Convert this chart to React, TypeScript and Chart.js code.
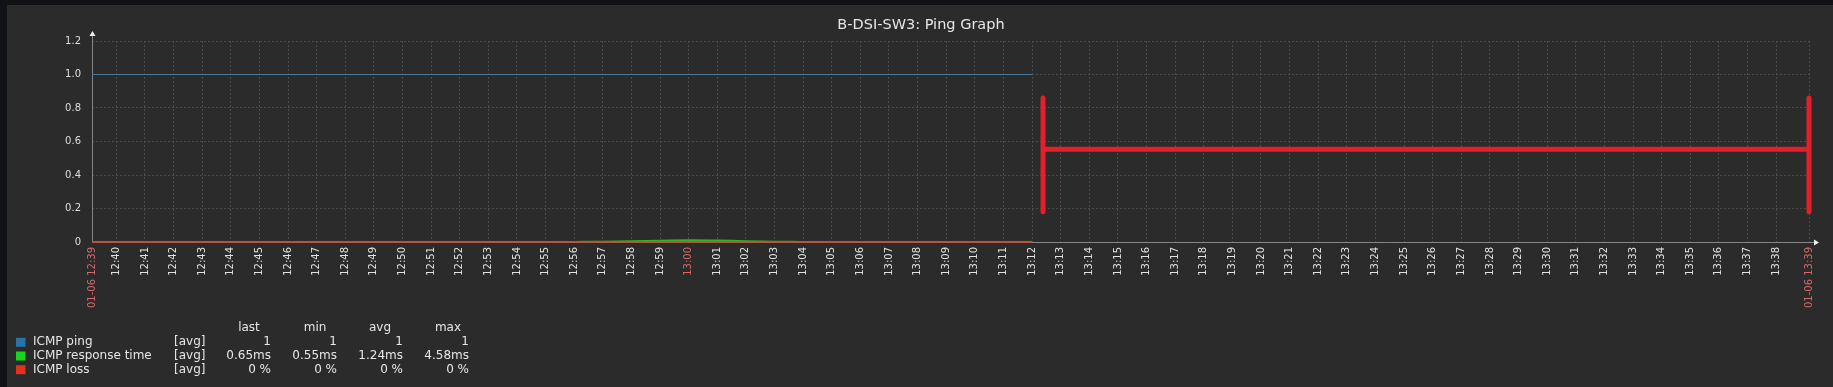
import { useEffect, useRef } from 'react';
import { Chart, registerables } from 'chart.js';

Chart.register(...registerables);

const W = 1833;
const H = 387;
const FONT = "'DejaVu Sans', 'Liberation Sans', sans-serif";

const chartTitle = 'B-DSI-SW3: Ping Graph';
const rangeStart = '12:39:09';
const rangeEnd = '13:39:09';
const startLabel = '01-06 12:39';
const endLabel = '01-06 13:39';

const tickLabels = [
  '12:40', '12:41', '12:42', '12:43', '12:44', '12:45', '12:46', '12:47', '12:48', '12:49',
  '12:50', '12:51', '12:52', '12:53', '12:54', '12:55', '12:56', '12:57', '12:58', '12:59',
  '13:00', '13:01', '13:02', '13:03', '13:04', '13:05', '13:06', '13:07', '13:08', '13:09',
  '13:10', '13:11', '13:12', '13:13', '13:14', '13:15', '13:16', '13:17', '13:18', '13:19',
  '13:20', '13:21', '13:22', '13:23', '13:24', '13:25', '13:26', '13:27', '13:28', '13:29',
  '13:30', '13:31', '13:32', '13:33', '13:34', '13:35', '13:36', '13:37', '13:38',
];
const highlightLabels = ['13:00'];

const yTicks = [0, 0.2, 0.4, 0.6, 0.8, 1.0, 1.2];

const sampleTimes = [
  '12:39:09', '12:40', '12:41', '12:42', '12:43', '12:44', '12:45', '12:46', '12:47', '12:48',
  '12:49', '12:50', '12:51', '12:52', '12:53', '12:54', '12:55', '12:56', '12:57', '12:58',
  '12:59', '13:00', '13:01', '13:02', '13:03', '13:04', '13:05', '13:06', '13:07', '13:08',
  '13:09', '13:10', '13:11', '13:12',
];
const pingValues = [
  1, 1, 1, 1, 1, 1, 1, 1, 1, 1,
  1, 1, 1, 1, 1, 1, 1, 1, 1, 1,
  1, 1, 1, 1, 1, 1, 1, 1, 1, 1,
  1, 1, 1, 1,
];
const responseValues = [
  0.0006, 0.0006, 0.0006, 0.0007, 0.0006, 0.0006, 0.0006, 0.0006, 0.0007, 0.0006,
  0.0006, 0.0006, 0.0006, 0.0006, 0.0007, 0.0006, 0.0006, 0.0006, 0.0015, 0.004,
  0.008, 0.011, 0.009, 0.005, 0.002, 0.0006, 0.0006, 0.0006, 0.0007, 0.0006,
  0.0006, 0.0006, 0.0006, 0.0006,
];
const lossValues = [
  0, 0, 0, 0, 0, 0, 0, 0, 0, 0,
  0, 0, 0, 0, 0, 0, 0, 0, 0, 0,
  0, 0, 0, 0, 0, 0, 0, 0, 0, 0,
  0, 0, 0, 0,
];

// red redaction marks drawn over the chart
const markTimes = ['13:12:23', '13:39:09'];
const markTop = 0.86;
const markBottom = 0.18;
const markMid = 0.553;

const legendNames = ['ICMP ping', 'ICMP response time', 'ICMP loss'];
const legendColors = ['#2874a6', '#1ad61a', '#e2331a'];
const legendFunc = ['[avg]', '[avg]', '[avg]'];
const legendHeaders = ['last', 'min', 'avg', 'max'];
const lastVals = ['1', '0.65ms', '0 %'];
const minVals = ['1', '0.55ms', '0 %'];
const avgVals = ['1', '1.24ms', '0 %'];
const maxVals = ['1', '4.58ms', '0 %'];

function toMin(t: string): number {
  const p = t.split(':').map(Number);
  return p[0] * 60 + p[1] + (p[2] || 0) / 60 - 720;
}

const xMin = toMin(rangeStart);
const xMax = toMin(rangeEnd);

export default function App() {
  const ref = useRef<HTMLCanvasElement | null>(null);

  useEffect(() => {
    const canvas = ref.current;
    if (!canvas) return;

    const tickMap = new Map<number, string>();
    tickMap.set(xMin, startLabel);
    tickLabels.forEach((l) => tickMap.set(toMin(l), l));
    tickMap.set(xMax, endLabel);
    const tickValues = Array.from(tickMap.keys()).sort((a, b) => a - b);
    const redValues = new Set<number>([xMin, xMax, ...highlightLabels.map(toMin)]);

    const xs = sampleTimes.map(toMin);
    const mx = markTimes.map(toMin);
    const markLeft: any[] = [
      { x: mx[0], y: markTop }, { x: mx[0], y: markBottom }, { x: mx[0], y: null },
      { x: mx[0], y: markMid }, { x: mx[1], y: markMid },
    ];
    const markRight: any[] = [
      { x: mx[1], y: markTop }, { x: mx[1], y: markBottom },
    ];

    const decor = {
      id: 'decor',
      beforeDraw(chart: any) {
        const ctx = chart.ctx;
        ctx.save();
        ctx.fillStyle = '#2b2b2b';
        ctx.fillRect(0, 0, W, H);
        ctx.fillStyle = '#111215';
        ctx.fillRect(0, 0, W, 5);
        ctx.fillRect(0, 0, 7, H);
        ctx.restore();
      },
      beforeDatasetsDraw(chart: any) {
        const ctx = chart.ctx;
        const a = chart.chartArea;
        ctx.save();
        ctx.strokeStyle = '#858585';
        ctx.lineWidth = 1;
        ctx.beginPath();
        ctx.moveTo(a.left + 0.5, a.top - 6);
        ctx.lineTo(a.left + 0.5, a.bottom + 0.5);
        ctx.lineTo(a.right + 6, a.bottom + 0.5);
        ctx.stroke();
        ctx.fillStyle = '#eeeeee';
        ctx.beginPath();
        ctx.moveTo(a.left + 0.5, a.top - 10);
        ctx.lineTo(a.left - 2.5, a.top - 5);
        ctx.lineTo(a.left + 3.5, a.top - 5);
        ctx.closePath();
        ctx.fill();
        ctx.beginPath();
        ctx.moveTo(a.right + 10, a.bottom + 0.5);
        ctx.lineTo(a.right + 5, a.bottom - 2.5);
        ctx.lineTo(a.right + 5, a.bottom + 3.5);
        ctx.closePath();
        ctx.fill();
        ctx.restore();
      },
      afterDraw(chart: any) {
        const ctx = chart.ctx;
        ctx.save();
        ctx.fillStyle = '#e6e6e6';
        ctx.font = `14.5px ${FONT}`;
        ctx.textAlign = 'center';
        ctx.textBaseline = 'alphabetic';
        ctx.fillText(chartTitle, 921, 29);

        ctx.font = `12px ${FONT}`;
        ctx.textBaseline = 'middle';
        const headX = [249, 315, 380, 448];
        legendHeaders.forEach((h, i) => {
          ctx.textAlign = 'center';
          ctx.fillText(h, headX[i], 328);
        });
        const rowY = [342.3, 356, 369.7];
        const colRight = [271, 337, 403, 469];
        const cols = [lastVals, minVals, avgVals, maxVals];
        legendNames.forEach((n, i) => {
          ctx.fillStyle = legendColors[i];
          ctx.fillRect(16, rowY[i] - 4.5, 9.5, 9);
          ctx.fillStyle = '#e6e6e6';
          ctx.textAlign = 'left';
          ctx.fillText(n, 33, rowY[i]);
          ctx.fillText(legendFunc[i], 174, rowY[i]);
          ctx.textAlign = 'right';
          cols.forEach((c, j) => ctx.fillText(c[i], colRight[j], rowY[i]));
        });
        ctx.restore();
      },
    };

    const markStyle = {
      borderColor: '#e3202a',
      borderWidth: 5,
      borderCapStyle: 'round',
      pointRadius: 0,
      spanGaps: false,
      clip: false as any,
      order: -1,
    };

    const chart = new Chart(canvas, {
      type: 'line',
      data: {
        datasets: [
          { label: 'redaction-a', data: markLeft, ...markStyle },
          { label: 'redaction-b', data: markRight, ...markStyle },
          {
            label: legendNames[2],
            data: xs.map((x, i) => ({ x, y: lossValues[i] })),
            borderColor: '#b8553b',
            borderWidth: 2,
            pointRadius: 0,
            clip: false as any,
            order: 0,
          },
          {
            label: legendNames[1],
            data: xs.map((x, i) => ({ x, y: responseValues[i] })),
            borderColor: 'rgba(40,200,40,0.9)',
            borderWidth: 2,
            pointRadius: 0,
            tension: 0.4,
            clip: false as any,
            order: 1,
          },
          {
            label: legendNames[0],
            data: xs.map((x, i) => ({ x, y: pingValues[i] })),
            borderColor: '#4a7899',
            borderWidth: 1,
            pointRadius: 0,
            clip: false as any,
            order: 2,
          },
        ],
      },
      options: {
        responsive: false,
        animation: false,
        devicePixelRatio: 1,
        layout: { padding: { left: 0, top: 41, right: W - 1809, bottom: 0 } },
        plugins: {
          legend: { display: false },
          title: { display: false },
          tooltip: { enabled: false },
        },
        scales: {
          x: {
            type: 'linear',
            min: xMin,
            max: xMax,
            afterBuildTicks: (scale: any) => {
              scale.ticks = tickValues.map((v) => ({ value: v }));
            },
            afterFit: (scale: any) => {
              scale.height = H - 242;
            },
            ticks: {
              autoSkip: false,
              minRotation: 90,
              maxRotation: 90,
              padding: 5,
              font: { family: FONT, size: 10 },
              color: (ctx: any) => (redValues.has(ctx.tick?.value) ? '#d46a6a' : '#e2e2e2'),
              callback: (v: any) => tickMap.get(v) ?? '',
            },
            grid: {
              color: '#4c4c4c',
              lineWidth: 1,
              drawTicks: false,
            },
            border: { display: false, dash: [2, 2] },
          },
          y: {
            type: 'linear',
            min: 0,
            max: 1.2,
            afterBuildTicks: (scale: any) => {
              scale.ticks = yTicks.map((v) => ({ value: v }));
            },
            afterFit: (scale: any) => {
              scale.width = 92;
            },
            ticks: {
              padding: 11,
              font: { family: FONT, size: 10 },
              color: '#dedede',
              callback: (v: any) => (Number(v) === 0 ? '0' : Number(v).toFixed(1)),
            },
            grid: {
              color: '#4c4c4c',
              lineWidth: 1,
              drawTicks: false,
            },
            border: { display: false, dash: [2, 2] },
          },
        },
      },
      plugins: [decor],
    } as any);

    return () => chart.destroy();
  }, []);

  return (
    <div style={{ position: 'absolute', left: 0, top: 0, width: W, height: H }}>
      <canvas ref={ref} width={W} height={H} style={{ width: W, height: H, display: 'block' }} />
    </div>
  );
}
